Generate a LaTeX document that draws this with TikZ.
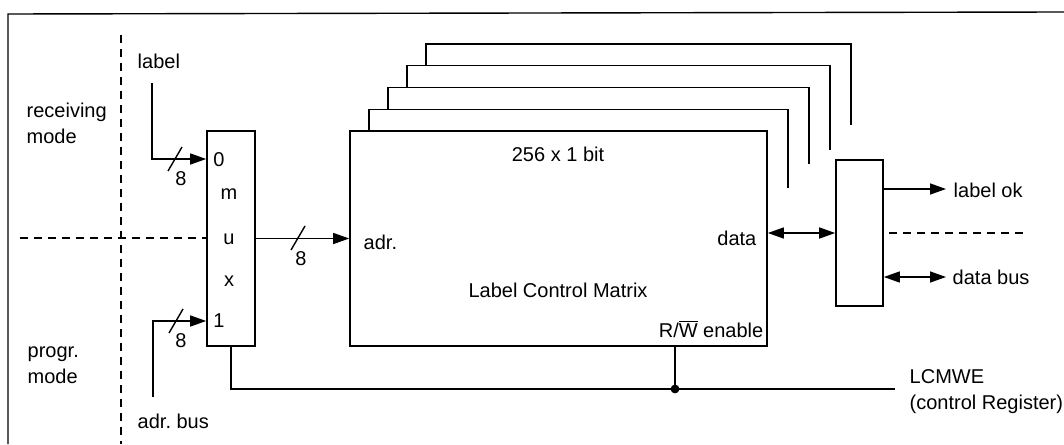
\documentclass[tikz,border=0pt]{standalone}
\usepackage{fontspec}
\setmainfont{Liberation Sans}
\usetikzlibrary{arrows.meta}

\begin{document}
\begin{tikzpicture}[x=0.5pt, y=-0.5pt, line width=0.7pt,
  font=\fontsize{10}{13}\selectfont,
  box/.style={draw, line width=0.8pt, inner sep=0pt},
  txt/.style={inner sep=0pt, align=left},
  sig/.style={-{Triangle[length=8pt,width=5.5pt]}},
  bidir/.style={{Triangle[length=8pt,width=5.5pt]}-{Triangle[length=8pt,width=5.5pt]}},
  sep/.style={dash pattern=on 4pt off 3pt}]

\useasboundingbox (0,0) rectangle (1064,444);

% Frame
\draw (8,444) -- (8,14) -- (1064,12);

% Mode separators
\draw[sep] (121,35) -- (121,444);
\node[txt, anchor=west] (recv) at (26,123) {receiving\\mode};
\node[txt, anchor=west] (prog) at (27,365) {progr.\\mode};

% Blocks
\node[box, minimum width=24pt, minimum height=107.5pt] (mux) at (231,238.5) {};
\node[box, minimum width=208.5pt, minimum height=107.5pt] (lcm) at (558.5,238.5) {};
\node[box, minimum width=23.5pt, minimum height=73pt] (reg) at (859.5,233) {};
\draw[sep] (20,238) -- (mux.west |- 0,238);

% Stacked matrices
\foreach \i/\yb in {1/188,2/164,3/150,4/125}
  \draw (350+19*\i, 152.75-21.75*\i) -- (350+19*\i, 131-21.75*\i)
    -- (767+21*\i, 131-21.75*\i) -- (767+21*\i, \yb);

% Mux labels
\node[txt] (m0) at (219,160) {0};
\node[txt] (m1) at (219,321) {1};
\node[txt] (mm) at (229,194) {m};
\node[txt] (mu) at (229,239) {u};
\node[txt] (mx) at (229,281) {x};

% Mux inputs
\node[txt, anchor=west] (lbl) at (137,61) {label};
\node[txt, anchor=west] (adb) at (137,421) {adr.\ bus};
\coordinate (lbltop) at (152,83);
\coordinate (adbbot) at (153,397);
\draw[sig] (lbltop) |- (mux.west |- 0,159);
\draw[sig] (adbbot) |- (mux.west |- 0,321);
\draw (175,159) ++(-7,12) -- ++(14,-24);
\node[txt] (w0) at (181,179) {8};
\draw (176,321) ++(-7,12) -- ++(14,-24);
\node[txt] (w1) at (181,341) {8};

% Address bus into matrix
\draw[sig] (mux.east) -- (lcm.west);
\draw (298,238) ++(-7,12) -- ++(14,-24);
\node[txt] (w2) at (301,259) {8};

% Matrix texts
\node[txt] (size) at (558,154) {256 x 1 bit};
\node[txt, anchor=west] (adr) at (363,242) {adr.};
\node[txt] (name) at (558,290) {Label Control Matrix};
\node[txt, anchor=east] (dat) at (757,238) {data};
\node[txt, anchor=east] (rw) at (764,329) {R/$\overline{\mbox{W}}$ enable};

% Data path
\draw[bidir] (lcm.east |- reg.west) -- (reg.west);
\coordinate (ok) at (946,189);
\coordinate (db) at (946,277);
\draw[sig] (reg.east |- ok) -- (ok);
\draw[bidir] (reg.east |- db) -- (db);
\draw[sep] (889,233) -- (1025,233);
\node[txt, anchor=west] (lok) at (953,190) {label ok};
\node[txt, anchor=west] (dbus) at (952,277) {data bus};

% Write enable
\coordinate (we) at (675,389);
\coordinate (crg) at (895,389);
\draw (mux.south) |- (we) -- (crg);
\draw (lcm.south -| we) -- (we);
\fill (we) circle[radius=2.2pt];
\node[txt, anchor=west] (lcmwe) at (909,392) {LCMWE\\(control Register)};

\end{tikzpicture}
\end{document}
